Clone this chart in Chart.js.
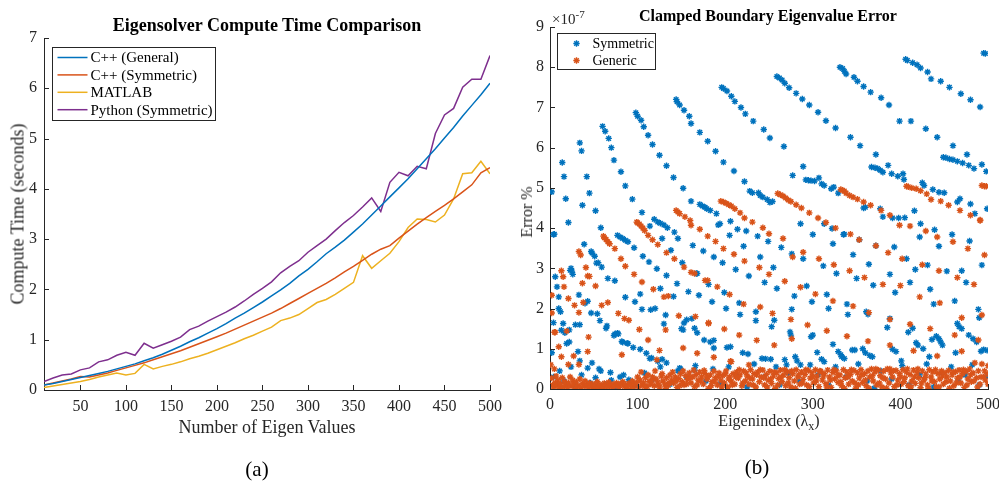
<!DOCTYPE html>
<html lang="en">
<head>
<meta charset="UTF-8">
<title>Eigensolver comparison</title>
<script src="https://cdn.jsdelivr.net/npm/chart.js"></script>
<style>
  body { margin: 0; background: #fff; }
  .fig { position: relative; width: 999px; height: 482px; overflow: hidden; font-family: "Liberation Serif", serif; color: #262626; }
  canvas { position: absolute; top: 0; }
  .t { position: absolute; white-space: nowrap; transform: translate(-50%, -50%); }
  .rot { transform: translate(-50%, -50%) rotate(-90deg); }
</style>
</head>
<body>
<div class="fig">
  <canvas id="timeChart" width="515" height="440" style="left:0"></canvas>
  <canvas id="errChart" width="499" height="440" style="left:500px"></canvas>

  <div class="t" style="left:267px; top:25px; font-weight:bold; font-size:18px; color:#000">Eigensolver Compute Time Comparison</div>
  <div class="t" style="left:267px; top:427px; font-size:18px">Number of Eigen Values</div>
  <div class="t rot" style="left:18px; top:214px; font-size:18px">Compute Time (seconds)</div>
  <div class="t" style="left:257px; top:469px; font-size:21px; color:#000">(a)</div>

  <div class="t" style="left:768px; top:16px; font-weight:bold; font-size:16px; color:#000">Clamped Boundary Eigenvalue Error</div>
  <div class="t" style="left:769px; top:423px; font-size:16px">Eigenindex (&lambda;<sub style="font-size:12px">x</sub>)</div>
  <div class="t rot" style="left:527px; top:212px; font-size:16px">Error %</div>
  <div class="t" style="left:757px; top:467px; font-size:21px; color:#000">(b)</div>
  <div style="position:absolute; left:552px; top:8px; font-size:15px; white-space:nowrap">&times;10<sup style="font-size:11px">-7</sup></div>
</div>

<script>
// ---- (a) compute time ----
const eigenCounts = [10,20,30,40,50,60,70,80,90,100,110,120,130,140,150,160,170,180,190,200,
  210,220,230,240,250,260,270,280,290,300,310,320,330,340,350,360,370,380,390,400,
  410,420,430,440,450,460,470,480,490,500];
const cppGeneral = [0.10,0.13,0.17,0.21,0.25,0.29,0.33,0.37,0.42,0.47,0.52,0.58,0.64,0.71,0.79,0.87,0.96,1.04,1.13,1.22,
  1.32,1.43,1.53,1.64,1.75,1.87,1.99,2.12,2.27,2.40,2.55,2.71,2.84,2.98,3.14,3.30,3.48,3.66,3.84,4.02,
  4.20,4.40,4.60,4.80,5.01,5.22,5.45,5.66,5.87,6.10];
const cppSymmetric = [0.10,0.14,0.18,0.22,0.27,0.26,0.30,0.34,0.39,0.44,0.49,0.54,0.60,0.66,0.72,0.78,0.85,0.92,0.99,1.06,
  1.13,1.21,1.29,1.37,1.45,1.53,1.62,1.72,1.82,1.92,2.02,2.12,2.23,2.35,2.46,2.58,2.70,2.80,2.87,3.02,
  3.16,3.30,3.43,3.55,3.67,3.80,3.94,4.08,4.32,4.42];
const matlabTime = [0.05,0.08,0.11,0.14,0.17,0.21,0.26,0.30,0.34,0.30,0.33,0.51,0.42,0.47,0.51,0.56,0.62,0.67,0.73,0.80,
  0.87,0.94,1.02,1.09,1.17,1.25,1.38,1.43,1.50,1.62,1.74,1.80,1.90,2.02,2.14,2.67,2.42,2.57,2.72,2.95,
  3.23,3.40,3.39,3.34,3.48,3.80,4.30,4.32,4.55,4.30];
const pythonSymmetric = [0.17,0.24,0.30,0.32,0.40,0.44,0.56,0.60,0.69,0.75,0.69,0.93,0.83,0.90,0.97,1.05,1.20,1.27,1.37,1.46,
  1.55,1.65,1.77,1.90,2.02,2.15,2.33,2.46,2.57,2.74,2.87,3.00,3.17,3.33,3.47,3.64,3.82,3.55,4.13,4.33,
  4.26,4.45,4.40,5.10,5.47,5.60,6.02,6.18,6.18,6.65];
const timeXTicks = [50,100,150,200,250,300,350,400,450,500];
const timeYTicks = [0,1,2,3,4,5,6,7];

// ---- (b) eigenvalue error, in units of 1e-7 ----
const symmetricPts = [
  [2,4.9],[5,3.85],[14,5.63],[16,5.28],[18,4.73],[21,4.14],
  [34,6.12],[36,5.92],[42,5.28],[45,4.87],[52,4.43],[58,4.01],
  [60,6.53],[63,6.41],[67,6.23],[70,6.0],[73,5.69],[81,5.4],[86,5.05],[94,4.72],[105,4.39],
  [98,6.87],[100,6.78],[104,6.68],[107,6.52],[112,6.31],[117,6.08],[125,5.81],[133,5.55],[141,5.26],[152,4.99],[161,4.67],
  [144,7.2],[145,7.14],[148,7.06],[153,6.93],[159,6.78],[161,6.6],[171,6.38],[180,6.16],[189,5.91],[198,5.64],[210,5.42],[222,5.16],
  [228,4.92],[231,4.88],[238,4.88],[240,4.81],[243,4.77],[248,4.71],[251,4.64],[254,4.66],
  [196,7.5],[198,7.47],[202,7.41],[207,7.28],[211,7.15],[218,7.0],[223,6.84],[232,6.66],[244,6.45],[251,6.24],[267,6.03],
  [259,7.77],[262,7.73],[265,7.68],[268,7.6],[273,7.49],[281,7.35],[288,7.21],[296,7.06],[306,6.88],[315,6.67],[326,6.49],[343,6.26],[354,6.05],[372,5.83],
  [331,8.0],[334,7.97],[336,7.9],[338,7.83],[347,7.75],[351,7.65],[358,7.52],[366,7.38],[378,7.24],[387,7.06],[399,6.66],[412,6.66],[429,6.47],[442,6.26],[460,6.05],[476,5.83],
  [406,8.2],[408,8.17],[414,8.11],[419,8.06],[423,7.98],[431,7.88],[435,7.71],[446,7.65],[456,7.5],[469,7.34],[480,7.19],[491,7.01],
  [495,8.35],[497,8.34],
  [277,5.31],[289,5.53],[292,5.2],[295,5.19],[298,5.18],[302,5.17],[307,5.25],[310,5.1],[313,5.06],[321,4.98],[324,5.02],[329,4.87],
  [367,5.52],[371,5.5],[374,5.48],[377,5.44],[380,5.39],[386,5.56],[390,5.35],[397,5.29],[403,5.35],[404,5.21],[425,5.13],[427,5.06],
  [437,4.96],[444,4.89],[450,4.88],[465,4.65],[468,4.73],[480,4.6],[499,4.48],
  [449,5.76],[452,5.75],[456,5.72],[460,5.7],[465,5.66],[471,5.62],[478,5.56],[484,5.48],[493,5.58],[498,5.41],
  [171,4.59],[174,4.55],[177,4.52],[179,4.48],[183,4.44],[190,4.36],[192,4.08],[194,4.11],[206,4.17],[214,3.97],[224,3.93],[205,3.82],
  [237,3.8],[249,3.67],[221,3.55],[264,3.52],[276,3.36],[286,4.11],[289,3.24],[300,3.84],[313,4.11],[322,3.99],[335,3.84],[323,3.61],[312,3.06],[327,2.87],
  [358,4.5],[360,4.52],[377,4.48],[380,4.28],[391,4.25],[398,4.25],[405,4.26],[416,4.43],[423,4.11],[422,3.78],[439,3.96],[444,3.55],[459,3.84],[479,3.68],[485,4.36],
  [336,3.85],[353,3.71],[372,3.56],[393,3.53],[346,3.34],[364,3.1],[407,3.24],[431,3.08],[350,2.75],[369,2.58],[388,2.85],[411,2.65],[394,2.4],[417,2.97],
  [453,2.93],[470,2.94],[475,2.65],[493,3.08],[434,2.48],[438,2.11],[462,2.19],[339,2.11],[340,1.85],[361,1.92],[363,1.86],[385,1.53],[388,1.75],
  [409,1.41],[414,1.51],[418,1.15],[420,1.09],[426,1.0],[436,1.23],[441,1.31],[444,1.25],[446,1.17],[448,1.09],[465,1.63],[467,1.55],[470,1.5],
  [478,1.34],[483,1.25],[487,1.17],[489,1.98],[490,1.77],[463,0.9],[492,0.94],[495,0.98],[499,0.96],[332,0.85],[336,0.76],[345,0.97],[348,0.97],
  [357,1.0],[360,0.9],[365,0.83],[368,0.8],[391,0.99],[395,0.93],[401,0.7],[433,0.8],
  [37,4.57],[4,3.84],[119,4.22],[123,4.15],[126,4.12],[130,4.08],[134,4.01],[114,4.05],[142,3.9],[146,3.74],[163,3.57],[128,3.74],[138,3.45],
  [151,3.14],[168,2.87],[39,3.6],[47,3.42],[48,3.38],[51,3.3],[55,3.14],[59,3.03],
  [24,3.0],[25,2.93],[26,2.85],[23,2.95],[6,2.79],[8,2.54],[10,2.29],[10,2.0],[12,1.92],[4,1.65],[15,1.63],[13,1.46],[19,1.13],[22,1.17],[2,0.9],
  [77,3.82],[80,3.78],[83,3.74],[86,3.7],[89,3.66],[96,3.51],[106,3.3],[113,3.16],[122,2.99],[133,2.82],[145,2.62],[158,2.42],
  [175,3.43],[187,3.28],[197,3.14],[212,2.97],[227,2.81],[240,3.28],[255,3.02],[245,2.65],[259,2.5],[167,2.87],[181,2.6],[199,2.4],[170,2.33],
  [185,2.17],[216,2.14],[201,2.0],[217,1.85],[235,1.92],[256,1.71],[235,1.7],[253,1.55],[168,1.4],[183,1.17],[187,1.21],[202,1.03],[206,1.05],
  [220,0.9],[226,0.87],[242,0.76],[246,0.75],[252,0.74],
  [274,1.42],[275,1.34],[293,2.56],[299,2.17],[276,1.98],[279,2.31],[316,2.35],[318,2.0],[323,1.11],[298,1.3],[300,1.34],[305,0.91],[310,0.74],
  [313,0.68],[329,0.93],[333,0.8],[280,0.8],[282,0.7],[286,0.6],[268,0.73],[270,0.6],
  [33,2.34],[40,2.13],[43,2.18],[47,1.89],[54,1.87],[57,1.7],[64,1.51],[65,1.57],[74,1.37],[77,1.39],[82,1.18],[88,1.14],[95,1.03],[103,0.99],
  [110,0.89],[116,0.77],[128,0.74],[133,0.65],[149,0.5],
  [17,1.4],[22,1.47],[32,0.93],[34,0.7],[43,0.52],[48,0.65],[56,0.5],[69,0.41],[80,0.3],[90,0.23],
  [53,3.13],[66,2.75],[74,2.69],[86,2.28],[97,2.17],[105,1.98],[120,2.0],[130,1.62],[153,1.64],[165,1.51],[176,1.22],[187,1.02],
  [103,2.36],[115,1.97],[126,2.5],[141,2.3],[152,1.47],[156,1.72],
  [132,1.84],[150,1.5],[162,1.75],[73,1.33],[78,1.37],[83,1.16],[89,1.13],[114,0.76],[123,0.69],[148,0.52],[165,0.47],[29,1.6],[34,1.6],
  [4,0.3],[7,0.12],[11,0.45],[16,0.2],[24,0.55],[29,0.08],[36,0.35],[46,0.15],[52,0.28],[58,0.45],[63,0.12],[70,0.22],[75,0.05],[84,0.35],
  [93,0.18],[98,0.09],[108,0.4],[118,0.25],[126,0.55],[137,0.12],[146,0.45],[156,0.3],[166,0.58],[178,0.2],[186,0.5],[195,0.15],[204,0.55],
  [213,0.35],[225,0.05],[233,0.62],[244,0.3],[258,0.55],[262,0.1],[272,0.4],[285,0.2],[297,0.6],[306,0.35],[318,0.1],[326,0.55],[338,0.3],
  [352,0.62],[362,0.2],[370,0.02],[378,0.45],[390,0.25],[402,0.58],[410,0.1],[422,0.35],[430,0.62],[438,0.05],[447,0.4],[458,0.55],[466,0.22],
  [474,0.35],[482,0.6],[490,0.1],[498,0.3]
];

const genericPts = [
  [33,3.42],[35,3.33],[37,2.63],[41,3.02],[43,2.81],[45,2.8],
  [61,3.8],[62,3.76],[64,3.72],[66,3.66],[68,3.61],[74,3.49],[81,3.24],[86,3.05],[96,2.85],[105,2.66],[118,2.48],[130,2.29],
  [99,4.15],[100,4.13],[102,4.1],[104,4.05],[106,4.0],[108,3.94],[112,3.82],[117,3.71],[123,3.59],[133,3.39],[142,3.24],[153,3.03],[165,2.87],
  [180,2.7],[191,2.54],[205,2.35],[221,2.11],
  [144,4.44],[146,4.4],[148,4.36],[154,4.28],[160,4.19],[161,4.07],[171,3.97],[180,3.8],[189,3.67],[198,3.49],[210,3.35],[222,3.18],[239,3.02],
  [250,2.85],[268,2.68],[286,2.53],[303,2.36],[323,2.19],
  [195,4.67],[198,4.65],[201,4.62],[204,4.58],[207,4.55],[211,4.48],[217,4.38],[222,4.25],[231,4.15],[243,4.01],[250,3.86],[266,3.74],
  [277,3.28],[289,3.4],[307,3.24],[324,3.09],
  [260,4.86],[263,4.83],[266,4.8],[269,4.75],[272,4.7],[275,4.66],[281,4.58],[287,4.5],[296,4.38],[306,4.25],[315,4.14],[326,4.0],[343,3.85],
  [353,3.71],[372,3.56],[386,3.39],[402,3.24],[425,3.09],[444,2.94],[465,2.77],[484,2.6],
  [332,4.96],[334,4.94],[336,4.92],[338,4.87],[342,4.81],[346,4.77],[351,4.72],[358,4.65],[366,4.57],[378,4.44],[388,4.32],[399,4.07],[411,4.05],
  [429,3.93],[442,3.78],[460,3.66],[477,3.49],[496,3.33],
  [407,5.04],[409,5.03],[413,5.0],[418,4.98],[423,4.93],[430,4.85],[435,4.71],[446,4.67],[455,4.57],[468,4.44],[480,4.32],[491,4.19],
  [493,5.06],[496,5.04],[498,5.04],
  [342,2.94],[359,2.77],[380,2.6],[400,2.57],[422,2.29],[445,2.14],[346,2.06],[364,1.9],[388,1.73],[411,1.61],[434,1.5],[462,1.34],[493,1.84],
  [470,1.77],[339,1.31],[363,1.19],[388,1.09],[415,0.95],[442,0.82],[470,0.94],[489,1.22],[491,4.2],
  [166,1.8],[181,1.63],[199,1.49],[216,1.34],[236,1.21],[256,1.09],[254,1.88],[240,2.04],[275,1.73],[294,1.59],[316,1.45],[276,1.25],
  [168,0.89],[187,0.79],[207,0.68],[227,0.6],[177,2.7],
  [13,2.94],[15,2.79],[16,2.54],[2,2.33],[6,1.41],[19,1.44],[21,2.25],[28,2.08],[33,1.9],[38,2.15],[52,2.56],[59,2.08],[66,2.15],[78,1.88],
  [90,1.71],[102,1.48],[112,1.22],[125,0.96],[10,1.05],[13,0.8],[21,0.61],[27,0.82],[33,0.61],[43,0.93],[44,1.29],[85,1.75],
  [2,1.89],[5,1.41],[82,0.85],[122,0.73],[132,1.47],[147,1.82],[152,1.02],[181,1.65],[206,0.69],[161,2.9],[135,2.31],
  [1,0.6],[2,0.27],[3,0.1],[4,0.05],[5,0.5],[6,0.15],[7,0.32],[8,0.08],[9,0.22],[11,0.02],[12,0.13],[14,0.28],[15,0.05],[17,0.18],[18,0.09],
  [20,0.04],[21,0.15],[23,0.3],[24,0.07],[26,0.22],[27,0.12],[29,0.02],[30,0.17],[32,0.08],[34,0.25],[35,0.04],[37,0.13],[39,0.06],[40,0.2],
  [42,0.1],[44,0.03],[45,0.15],[47,0.07],[49,0.12],[50,0.01],[52,0.09],[54,0.18],[55,0.04],[57,0.11],[59,0.06],[60,0.02],[62,0.14],[64,0.08],
  [66,0.05],[67,0.17],[69,0.1],[71,0.03],[72,0.12],[74,0.07],[76,0.15],[78,0.09],[79,0.04],[81,0.13],[83,0.18],[85,0.06],[86,0.11],[88,0.02],
  [90,0.14],[92,0.08],[94,0.2],[95,0.05],[97,0.12],[99,0.16],[101,0.03],[103,0.22],[105,0.1],[107,0.15],[109,0.28],[111,0.06],[113,0.19],
  [115,0.12],[117,0.3],[119,0.08],[121,0.25],[123,0.17],[125,0.05],[127,0.32],[129,0.2],[131,0.12],[133,0.28],[135,0.09],[137,0.35],[139,0.22],
  [141,0.15],[143,0.3],[145,0.04],[147,0.26],[149,0.38],[151,0.18],[153,0.1],[155,0.33],[157,0.24],[159,0.4],[161,0.15],[163,0.3],[165,0.06],
  [167,0.36],[169,0.22],[171,0.42],[173,0.3],[175,0.12],[177,0.38],[179,0.25],[181,0.02],[183,0.35],[185,0.18],[187,0.44],[189,0.28],[191,0.1],
  [193,0.4],[195,0.22],[197,0.33],[199,0.15],[201,0.45],[203,0.05],[205,0.3],[207,0.2],[209,0.38],[211,0.12],[213,0.42],[215,0.27],[217,0.35],
  [219,0.08],[221,0.45],[223,0.2],[225,0.32],[227,0.12],[229,0.48],[231,0.25],[233,0.38],[235,0.05],[237,0.42],[239,0.18],[241,0.3],[243,0.47],
  [245,0.1],[247,0.36],[249,0.22],[251,0.44],[253,0.14],[255,0.32],[257,0.02],[259,0.4],[261,0.26],[263,0.47],[265,0.18],[267,0.35],[269,0.08],
  [271,0.43],[273,0.28],[275,0.05],[277,0.38],[279,0.2],[281,0.48],[283,0.3],[285,0.12],[287,0.42],[289,0.24],[291,0.36],[293,0.1],[295,0.46],
  [297,0.27],[299,0.4],[301,0.15],[303,0.48],[305,0.32],[307,0.06],[309,0.44],[311,0.22],[313,0.38],[315,0.13],[317,0.47],[319,0.3],[321,0.04],
  [323,0.41],[325,0.25],[327,0.45],[329,0.16],[331,0.35],[333,0.08],[335,0.48],[337,0.28],[339,0.42],[341,0.12],[343,0.36],[345,0.2],[347,0.46],
  [349,0.02],[351,0.4],[353,0.27],[355,0.48],[357,0.16],[359,0.38],[361,0.08],[363,0.45],[365,0.3],[367,0.5],[369,0.2],[371,0.42],[373,0.1],
  [375,0.47],[377,0.33],[379,0.05],[381,0.44],[383,0.25],[385,0.5],[387,0.15],[389,0.4],[391,0.3],[393,0.06],[395,0.46],[397,0.22],[399,0.38],
  [401,0.12],[403,0.48],[405,0.28],[407,0.42],[409,0.08],[411,0.36],[413,0.2],[415,0.47],[417,0.14],[419,0.4],[421,0.28],[423,0.03],[425,0.45],
  [427,0.22],[429,0.37],[431,0.1],[433,0.48],[435,0.3],[437,0.42],[439,0.18],[441,0.05],[443,0.38],[445,0.25],[447,0.45],[449,0.12],[451,0.4],
  [453,0.3],[455,0.46],[457,0.2],[459,0.35],[461,0.08],[463,0.43],[465,0.27],[467,0.47],[469,0.15],[471,0.38],[473,0.04],[475,0.44],[477,0.25],
  [479,0.5],[481,0.18],[483,0.4],[485,0.65],[487,0.28],[489,0.45],[491,0.12],[493,0.62],[495,0.3],[497,0.22],[499,0.38],[500,0.58],
  [100,0.3],[104,0.42],[108,0.06],[112,0.35],[116,0.2],[120,0.45],[124,0.1],[128,0.38],[132,0.02],[136,0.15],[140,0.42],[144,0.2],[148,0.08],
  [152,0.45],[156,0.12],[160,0.28],[164,0.47],[168,0.1],[172,0.2],[176,0.46],[180,0.3],[184,0.08],[188,0.2],[192,0.32],[196,0.05],[200,0.38],
  [204,0.25],[208,0.1],[212,0.3],[216,0.48],[220,0.15],[224,0.4],[228,0.28],[232,0.1],[236,0.35],[240,0.48],[244,0.28],[248,0.05],[252,0.25],
  [256,0.42],[260,0.1],[264,0.3],[268,0.48],[272,0.15],[276,0.45],[280,0.02],[284,0.35],[288,0.15],[292,0.48],[296,0.06],[300,0.3],[304,0.2],
  [308,0.45],[312,0.32],[316,0.05],[320,0.22],[324,0.48],[328,0.32],[332,0.18],[336,0.02],[340,0.3],[344,0.48],[348,0.15],[352,0.1],[356,0.35],
  [360,0.22],[364,0.02],[368,0.33],[372,0.5],[376,0.15],[380,0.28],[384,0.02],[388,0.5],[392,0.45],[396,0.1],[400,0.3],[404,0.18],[408,0.5],
  [412,0.05],[416,0.3],[420,0.5],[424,0.15],[428,0.28],[432,0.02],[436,0.2],[440,0.48],[444,0.05],[448,0.32],[452,0.18],[456,0.02],[460,0.42],
  [464,0.15],[468,0.3],[472,0.48],[476,0.1],[480,0.35],[484,0.2],[488,0.05],[492,0.3],[496,0.45],[500,0.12]
];
const errXTicks = [0,100,200,300,400,500];
const errYTicks = [0,1,2,3,4,5,6,7,8,9];

const AXIS = '#262626';
const FONT = '"Liberation Serif", "Times New Roman", serif';

// MATLAB-style ticks pointing into the plot
const inwardTicks = {
  id: 'inwardTicks',
  afterDraw(chart) {
    const { ctx, chartArea: a, scales } = chart;
    ctx.save();
    ctx.strokeStyle = AXIS;
    ctx.lineWidth = 1;
    scales.x.ticks.forEach(t => {
      const px = Math.round(scales.x.getPixelForValue(t.value)) + 0.5;
      ctx.beginPath(); ctx.moveTo(px, a.bottom); ctx.lineTo(px, a.bottom - 5); ctx.stroke();
    });
    scales.y.ticks.forEach(t => {
      const py = Math.round(scales.y.getPixelForValue(t.value)) + 0.5;
      ctx.beginPath(); ctx.moveTo(a.left, py); ctx.lineTo(a.left + 5, py); ctx.stroke();
    });
    ctx.restore();
  }
};

function drawStar(ctx, x, y, r) {
  ctx.beginPath();
  ctx.moveTo(x - r, y); ctx.lineTo(x + r, y);
  ctx.moveTo(x, y - r); ctx.lineTo(x, y + r);
  const d = r * 0.7071;
  ctx.moveTo(x - d, y - d); ctx.lineTo(x + d, y + d);
  ctx.moveTo(x - d, y + d); ctx.lineTo(x + d, y - d);
  ctx.stroke();
}

// boxed legend inside the axes, like matlab's "northwest"
function boxLegend(opts) {
  return {
    id: 'boxLegend',
    afterDraw(chart) {
      const { ctx, chartArea: a } = chart;
      const x0 = Math.round(a.left + opts.dx) + 0.5, y0 = Math.round(a.top + opts.dy) + 0.5;
      ctx.save();
      ctx.fillStyle = '#fff';
      ctx.fillRect(x0, y0, opts.w, opts.h);
      ctx.strokeStyle = AXIS;
      ctx.lineWidth = 1;
      ctx.strokeRect(x0, y0, opts.w, opts.h);
      ctx.font = opts.fontSize + 'px ' + FONT;
      ctx.textBaseline = 'middle';
      chart.data.datasets.forEach((ds, i) => {
        const y = y0 + opts.first + i * opts.step;
        ctx.strokeStyle = ds.borderColor;
        if (opts.marker) {
          ctx.lineWidth = 1.4;
          drawStar(ctx, x0 + opts.markX, y, 3.2);
        } else {
          ctx.lineWidth = 1.5;
          ctx.beginPath(); ctx.moveTo(x0 + 5, y); ctx.lineTo(x0 + 35, y); ctx.stroke();
        }
        ctx.fillStyle = '#000';
        ctx.fillText(ds.label, x0 + opts.textX, y + 1);
      });
      ctx.restore();
    }
  };
}

function fixedAxis(size, horizontal, tickValues) {
  return {
    afterBuildTicks: s => { s.ticks = tickValues.map(v => ({ value: v })); },
    afterFit: s => {
      if (horizontal) s.height = size; else s.width = size;
      s.paddingLeft = s.paddingRight = s.paddingTop = s.paddingBottom = 0;
    }
  };
}

const tickFont = { family: FONT, size: 16 };

const line = (label, data, color) => ({
  label, data, borderColor: color, backgroundColor: color,
  borderWidth: 1.5, pointRadius: 0, tension: 0
});

new Chart(document.getElementById('timeChart'), {
  type: 'line',
  data: {
    datasets: [
      line('C++ (General)', cppGeneral.map((v, i) => ({ x: eigenCounts[i], y: v })), '#0072BD'),
      line('C++ (Symmetric)', cppSymmetric.map((v, i) => ({ x: eigenCounts[i], y: v })), '#D95319'),
      line('MATLAB', matlabTime.map((v, i) => ({ x: eigenCounts[i], y: v })), '#EDB120'),
      line('Python (Symmetric)', pythonSymmetric.map((v, i) => ({ x: eigenCounts[i], y: v })), '#7E2F8E')
    ]
  },
  options: {
    responsive: false,
    animation: false,
    layout: { padding: { left: 0, right: 25, top: 38, bottom: 0 } },
    plugins: { legend: { display: false }, tooltip: { enabled: false } },
    scales: {
      x: {
        type: 'linear', min: 10, max: 500,
        grid: { display: false, drawTicks: false },
        border: { display: true, color: AXIS, width: 1 },
        ticks: { font: tickFont, color: AXIS, padding: 7, maxRotation: 0 },
        ...fixedAxis(50, true, timeXTicks)
      },
      y: {
        min: 0, max: 7,
        grid: { display: false, drawTicks: false },
        border: { display: true, color: AXIS, width: 1 },
        ticks: { font: tickFont, color: AXIS, padding: 7 },
        ...fixedAxis(44, false, timeYTicks)
      }
    }
  },
  plugins: [inwardTicks, boxLegend({ dx: 8, dy: 9, w: 163, h: 73, first: 10, step: 17.4, textX: 38, fontSize: 15 })]
});

const scatterSet = (label, pts, color, order) => ({
  label, order,
  data: pts.map(([x, y]) => ({ x, y })),
  borderColor: color, backgroundColor: color,
  pointStyle: 'star', pointRadius: 3.2, borderWidth: 1.4
});

new Chart(document.getElementById('errChart'), {
  type: 'scatter',
  data: {
    datasets: [
      scatterSet('Symmetric', symmetricPts, '#0072BD', 1),
      scatterSet('Generic', genericPts, '#D95319', 0)
    ]
  },
  options: {
    responsive: false,
    animation: false,
    layout: { padding: { left: 0, right: 11, top: 27, bottom: 0 } },
    plugins: { legend: { display: false }, tooltip: { enabled: false } },
    scales: {
      x: {
        type: 'linear', min: 0, max: 500,
        grid: { display: false, drawTicks: false },
        border: { display: true, color: AXIS, width: 1 },
        ticks: { font: tickFont, color: AXIS, padding: 6, maxRotation: 0 },
        ...fixedAxis(51, true, errXTicks)
      },
      y: {
        min: 0, max: 9,
        grid: { display: false, drawTicks: false },
        border: { display: true, color: AXIS, width: 1 },
        ticks: { font: tickFont, color: AXIS, padding: 6 },
        ...fixedAxis(50, false, errYTicks)
      }
    }
  },
  plugins: [inwardTicks, boxLegend({ dx: 7, dy: 6, w: 98, h: 36, first: 10, step: 17, markX: 19, textX: 35, fontSize: 14, marker: true })]
});
</script>
</body>
</html>
